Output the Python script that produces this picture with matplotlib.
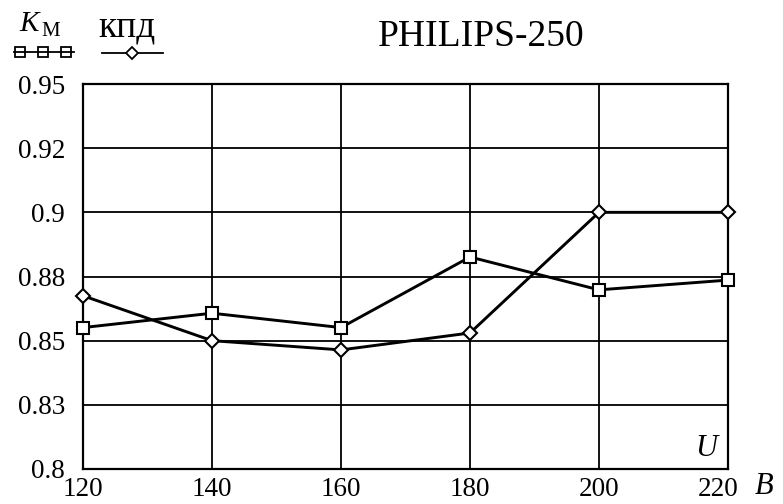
import matplotlib
import matplotlib.pyplot as plt
from matplotlib.lines import Line2D
from matplotlib.transforms import ScaledTranslation

matplotlib.use("Agg")

# data
voltage = [120, 140, 160, 180, 200, 220]
k_m = [0.8551, 0.8607, 0.8551, 0.8826, 0.8698, 0.8736]
kpd = [0.8675, 0.8500, 0.8464, 0.8530, 0.9000, 0.9000]

y_ticks = [0.8, 0.825, 0.85, 0.875, 0.9, 0.925, 0.95]
y_tick_labels = ["0.8", "0.83", "0.85", "0.88", "0.9", "0.92", "0.95"]
x_ticks = [120, 140, 160, 180, 200, 220]

plt.rcParams["font.family"] = ["Liberation Serif", "DejaVu Serif"]

fig = plt.figure(figsize=(7.83, 5.04), dpi=100)
ax = fig.add_axes([83 / 783, 35 / 504, 645 / 783, 385 / 504])

ax.plot(voltage, k_m, color="black", lw=2.1, marker="s", markersize=9,
        markerfacecolor="white", markeredgewidth=1.5, zorder=3,
        clip_on=False)
ax.plot(voltage, kpd, color="black", lw=2.1, marker="D", markersize=7.5,
        markerfacecolor="white", markeredgewidth=1.5, zorder=3,
        clip_on=False)

ax.set_xlim(120, 220)
ax.set_ylim(0.8, 0.95)
ax.set_xticks(x_ticks)
ax.set_yticks(y_ticks)
ax.set_yticklabels(y_tick_labels)
ax.tick_params(axis="both", length=0, labelsize=19.5)
ax.tick_params(axis="y", pad=13)
ax.tick_params(axis="x", pad=6)
# last x label sits a bit to the left to make room for the unit
last = ax.get_xticklabels()[-1]
last.set_transform(last.get_transform()
                   + ScaledTranslation(-10 / 100, 0, fig.dpi_scale_trans))
ax.grid(True, color="black", lw=1.3)
for spine in ax.spines.values():
    spine.set_linewidth(1.6)
    spine.set_color("black")

# axis names
fig.text(706 / 783, 1 - 448 / 504, "U", fontsize=22, style="italic",
         ha="center", va="center")
fig.text(764 / 783, 1 - 487 / 504, "B", fontsize=22, style="italic",
         ha="center", va="center")

# title
fig.text(481 / 783, 1 - 37 / 504, "PHILIPS-250", fontsize=27,
         ha="center", va="center")

# hand-made legend in the top-left corner
fig.text(29 / 783, 1 - 24 / 504, "K", fontsize=21, style="italic",
         ha="center", va="center")
fig.text(51 / 783, 1 - 32 / 504, "М", fontsize=15, ha="center", va="center")
fig.text(127 / 783, 1 - 27 / 504, "кпд", fontsize=27, ha="center",
         va="center")
fig.add_artist(Line2D([14 / 783, 74 / 783], [1 - 52 / 504] * 2,
                      color="black", lw=1.3))
fig.add_artist(Line2D([20 / 783, 43 / 783, 66 / 783], [1 - 52 / 504] * 3,
                      ls="none", marker="s", markersize=7,
                      markerfacecolor="none", markeredgecolor="black",
                      markeredgewidth=1.3))
fig.add_artist(Line2D([102 / 783, 163 / 783], [1 - 53 / 504] * 2,
                      color="black", lw=1.3))
fig.add_artist(Line2D([132 / 783], [1 - 53 / 504], ls="none", marker="D",
                      markersize=6.5, markerfacecolor="white",
                      markeredgecolor="black", markeredgewidth=1.3))

plt.savefig("out.png", dpi=100)
plt.close()
